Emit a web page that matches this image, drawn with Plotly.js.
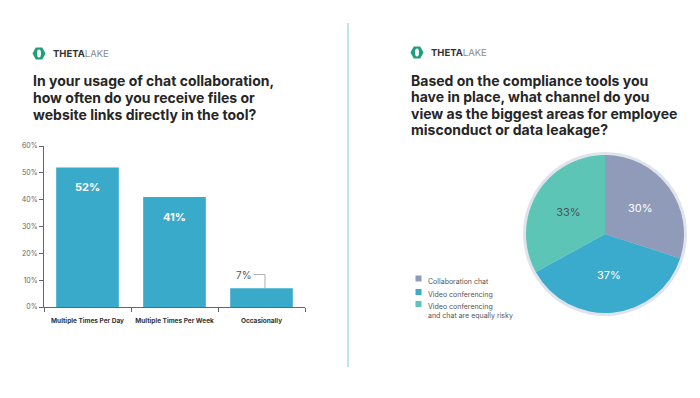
<!DOCTYPE html>
<html>
<head>
<meta charset="utf-8">
<script src="https://cdn.plot.ly/plotly-3.0.1.min.js"></script>
<style>html,body{margin:0;padding:0;background:#fff;}#chart{width:700px;height:398px;}</style>
</head>
<body>
<div id="chart"></div>
<script>
// ---- Data ----
const barCategories = ["Multiple Times Per Day", "Multiple Times Per Week", "Occasionally"];
const barValues = [52, 41, 7];
const yTickValues = [0, 10, 20, 30, 40, 50, 60];
const yTickLabels = ["0%", "10%", "20%", "30%", "40%", "50%", "60%"];

const pieLabels = ["Collaboration chat", "Video conferencing", "Video conferencing<br>and chat are equally risky"];
const pieValues = [30, 37, 33];

const leftTitleLines = ["In your usage of chat collaboration,", "how often do you receive files or", "website links directly in the tool?"];
const rightTitleLines = ["Based on the compliance tools you", "have in place, what channel do you", "view as the biggest areas for employee", "misconduct or data leakage?"];

// ---- Styles ----
const W = 700, H = 398;
const px = x => x / W;
const py = y => 1 - y / H;
const FONT = "Inter, 'Open Sans', sans-serif";
const barColor = "#3aaacb";
const pieColors = ["#8f9bb8", "#3aabcc", "#5cc5b5"];
const pieTextColors = ["#ffffff", "#ffffff", "#4a5560"];

const traces = [
  {
    type: "bar",
    x: barCategories,
    y: barValues,
    marker: {color: barColor},
    xaxis: "x", yaxis: "y",
    hoverinfo: "skip",
    showlegend: false
  },
  {
    type: "pie",
    labels: pieLabels,
    values: pieValues,
    sort: false,
    direction: "clockwise",
    rotation: 0,
    marker: {colors: pieColors, line: {width: 0}},
    textinfo: "percent",
    texttemplate: "%{value}%",
    textposition: "inside",
    insidetextorientation: "horizontal",
    textfont: {family: FONT, size: 11, color: pieTextColors},
    domain: {x: [px(526), px(684)], y: [py(313), py(155)]},
    showlegend: false,
    hoverinfo: "skip"
  }
];

const annotations = [];
const shapes = [];

// Titles
leftTitleLines.forEach((t, i) => annotations.push({
  xref: "paper", yref: "paper", x: px(31), y: py(80 + i * 17), xanchor: "left", yanchor: "middle",
  text: "<b>" + t + "</b>", showarrow: false, font: {family: FONT, size: 14, color: "#262626"}
}));
rightTitleLines.forEach((t, i) => annotations.push({
  xref: "paper", yref: "paper", x: px(409), y: py(80 + i * 16.5), xanchor: "left", yanchor: "middle",
  text: "<b>" + t + "</b>", showarrow: false, font: {family: FONT, size: 14, color: "#262626"}
}));

// Logos
function addLogo(cx, cy, textX) {
  const r = 6.5, h = 6;
  const pts = [[cx - r, cy], [cx - r / 2, cy - h], [cx + r / 2, cy - h], [cx + r, cy], [cx + r / 2, cy + h], [cx - r / 2, cy + h]];
  shapes.push({
    type: "path", xref: "paper", yref: "paper",
    path: "M" + pts.map(p => px(p[0]) + "," + py(p[1])).join(" L") + " Z",
    fillcolor: "#1f9e7c", line: {width: 0}
  });
  shapes.push({
    type: "circle", xref: "paper", yref: "paper",
    x0: px(cx - 2), x1: px(cx + 2), y0: py(cy + 4), y1: py(cy - 4),
    fillcolor: "#ffffff", line: {width: 0}
  });
  annotations.push({
    xref: "paper", yref: "paper", x: px(textX), y: py(cy), xanchor: "left", yanchor: "middle",
    text: "<b>THETA</b><span style='color:#8a8a8a'>LAKE</span>", showarrow: false,
    font: {family: FONT, size: 9.5, color: "#333333"}
  });
}
addLogo(39, 53.5, 51);
addLogo(417, 52.5, 429);

// Divider
shapes.push({type: "line", xref: "paper", yref: "paper", x0: px(348), x1: px(348), y0: py(23), y1: py(367),
  line: {color: "#7ccfc6", width: 1}});

// Bar value labels
barValues.forEach((v, i) => {
  if (v >= 15) {
    annotations.push({xref: "x", yref: "y", x: i, y: v, yshift: -20, yanchor: "middle",
      text: "<b>" + v + "%</b>", showarrow: false, font: {family: FONT, size: 11, color: "#ffffff"}});
  } else {
    const ly = v + 5.1;
    annotations.push({xref: "x", yref: "y", x: i - 0.1, y: ly, xanchor: "right", yanchor: "middle",
      text: v + "%", showarrow: false, font: {family: FONT, size: 10, color: "#555555"}});
    shapes.push({type: "path", xref: "x", yref: "y",
      path: "M" + (i - 0.09) + "," + ly + " L" + (i + 0.04) + "," + ly + " L" + (i + 0.04) + "," + v,
      line: {color: "#999999", width: 0.8}});
  }
});

// Pie outer ring
const pcx = 605, pcy = 234, rr = 82;
shapes.push({type: "circle", xref: "paper", yref: "paper", layer: "below",
  x0: px(pcx - rr), x1: px(pcx + rr), y0: py(pcy + rr), y1: py(pcy - rr),
  fillcolor: "#dfe4ec", line: {width: 0}});

// Custom legend
const legendRows = [278.5, 292, 304];
pieLabels.forEach((lab, i) => {
  const y = legendRows[i];
  shapes.push({type: "rect", xref: "paper", yref: "paper",
    x0: px(415.5), x1: px(421.5), y0: py(y + 3), y1: py(y - 3),
    fillcolor: pieColors[i], line: {width: 0}});
  annotations.push({xref: "paper", yref: "paper", x: px(426), y: py(y - 4), xanchor: "left", yanchor: "top",
    text: lab, align: "left", showarrow: false, font: {family: FONT, size: 7, color: "#555555"}});
});

const layout = {
  width: W, height: H,
  margin: {l: 0, r: 0, t: 0, b: 0},
  paper_bgcolor: "#ffffff", plot_bgcolor: "#ffffff",
  font: {family: FONT},
  bargap: 0.28,
  xaxis: {
    domain: [px(44), px(305)], anchor: "y",
    showline: true, linecolor: "#666666", linewidth: 1,
    ticks: "outside", tickson: "boundaries", ticklen: 4, tickcolor: "#666666",
    tickangle: 0, ticklabelstandoff: 7,
    tickfont: {family: FONT, size: 6.5, color: "#333333", weight: "bold"},
    showgrid: false, zeroline: false, fixedrange: true
  },
  yaxis: {
    domain: [py(307), py(146)], anchor: "x",
    range: [0, 60], tickvals: yTickValues, ticktext: yTickLabels,
    showline: true, linecolor: "#666666", linewidth: 1,
    ticks: "outside", ticklen: 4, tickcolor: "#666666",
    tickfont: {family: FONT, size: 7, color: "#666666"},
    showgrid: false, zeroline: false, fixedrange: true
  },
  shapes: shapes,
  annotations: annotations
};

Plotly.newPlot("chart", traces, layout, {displayModeBar: false, staticPlot: true});
</script>
</body>
</html>
